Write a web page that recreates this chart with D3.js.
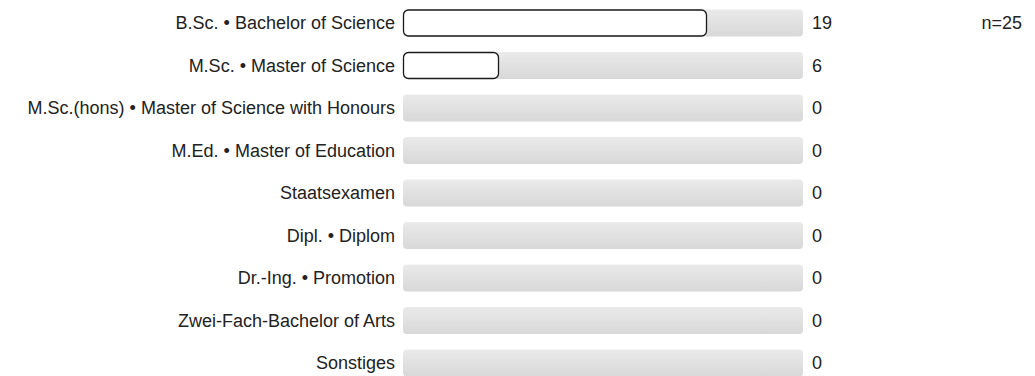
<!doctype html>
<html lang="en">
<head>
<meta charset="utf-8">
<title>Abschluss</title>
<script src="https://cdn.jsdelivr.net/npm/d3@7"></script>
<style>
  body { margin: 0; background: #fff; }
  text { font-family: "Liberation Sans", Arial, sans-serif; font-size: 18px; fill: #222; }
</style>
</head>
<body>
<script>
    var categories = ["B.Sc. • Bachelor of Science", "M.Sc. • Master of Science",
        "M.Sc.(hons) • Master of Science with Honours", "M.Ed. • Master of Education",
        "Staatsexamen", "Dipl. • Diplom", "Dr.-Ing. • Promotion",
        "Zwei-Fach-Bachelor of Arts", "Sonstiges"];
    var counts = [19, 6, 0, 0, 0, 0, 0, 0, 0];
    var total = 25;

    var data = categories.map(function(c, i){ return {label: c, value: counts[i]}; });

    var svg = d3.select("body").append("svg")
        .attr("width", 1035).attr("height", 376);

    var defs = svg.append("defs");
    var grad = defs.append("linearGradient").attr("id", "bg")
        .attr("x1", 0).attr("y1", 0).attr("x2", 0).attr("y2", 1);
    grad.append("stop").attr("offset", "0%").attr("stop-color", "#eaeaea");
    grad.append("stop").attr("offset", "100%").attr("stop-color", "#d8d8d8");

    var x = d3.scaleLinear().domain([0, total]).range([403, 803]);
    var y = d3.scaleBand().domain(categories).range([-6, 392]).padding(0.365);

    var rows = svg.append("g").selectAll("g")
        .data(data).enter().append("g");

    rows.append("rect")
        .attr("x", x(0)).attr("y", function(d){ return y(d.label); })
        .attr("width", x(total) - x(0)).attr("height", y.bandwidth())
        .attr("rx", 4).attr("fill", "url(#bg)");

    rows.filter(function(d){ return d.value > 0; }).append("rect")
        .attr("x", x(0) + 0.5).attr("y", function(d){ return y(d.label) + 0.5; })
        .attr("width", function(d){ return x(d.value) - x(0) - 1; })
        .attr("height", y.bandwidth() - 1)
        .attr("rx", 5).attr("fill", "#fff")
        .attr("stroke", "#1a1a1a").attr("stroke-width", 1.3);

    rows.append("text")
        .attr("x", x(0) - 8).attr("y", function(d){ return y(d.label) + y.bandwidth() / 2; })
        .attr("dy", "0.35em").attr("text-anchor", "end")
        .text(function(d){ return d.label; });

    rows.append("text")
        .attr("x", x(total) + 9).attr("y", function(d){ return y(d.label) + y.bandwidth() / 2; })
        .attr("dy", "0.35em")
        .text(function(d){ return d.value; });

    svg.append("text")
        .attr("x", 1022).attr("y", y(categories[0]) + y.bandwidth() / 2)
        .attr("dy", "0.35em").attr("text-anchor", "end")
        .text("n=" + total);
</script>
</body>
</html>
